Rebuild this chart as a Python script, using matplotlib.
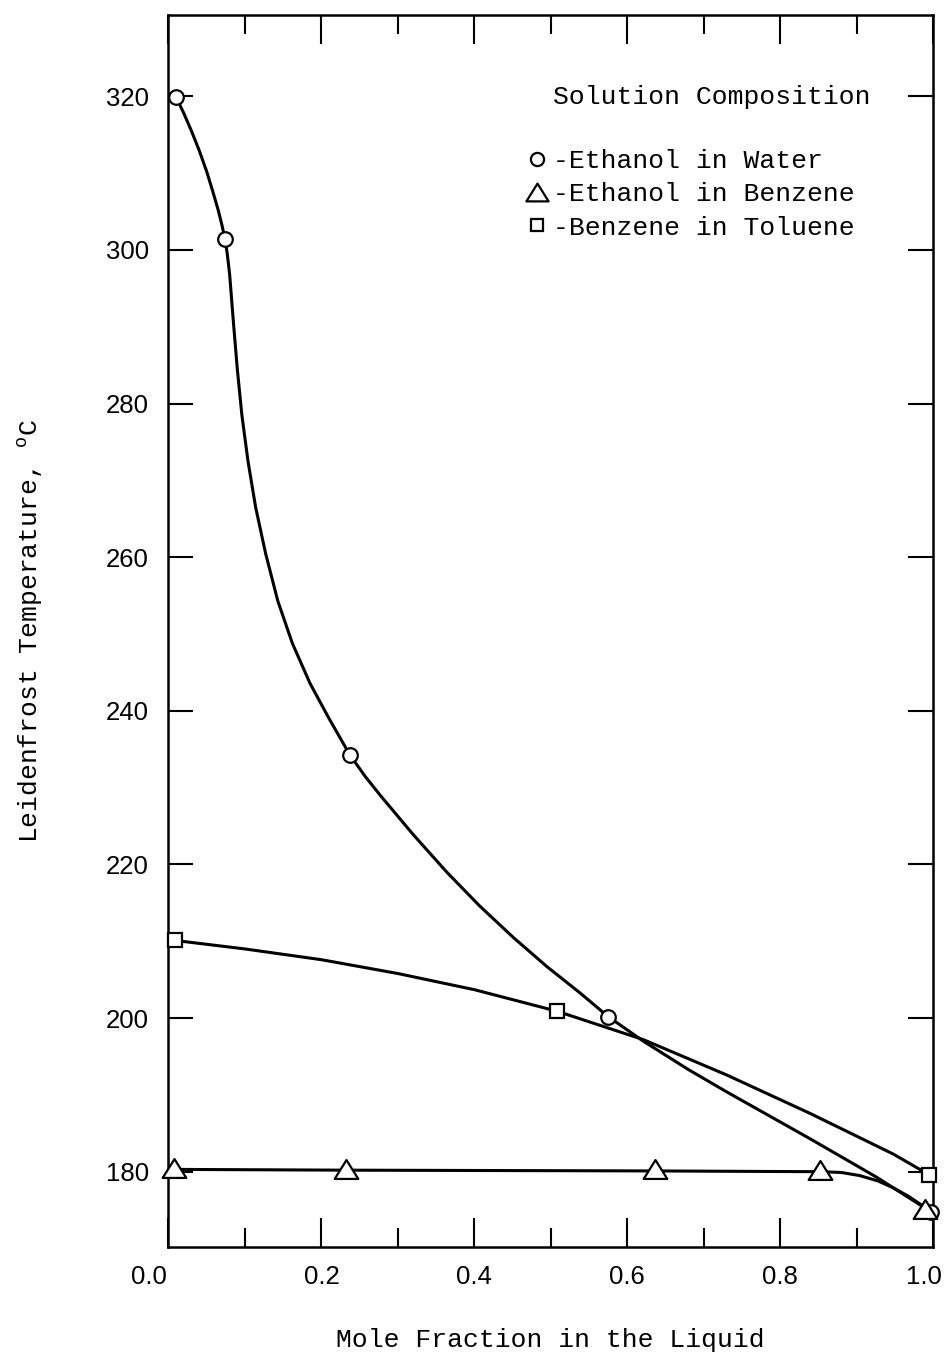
import matplotlib
matplotlib.use("Agg")
import matplotlib.pyplot as plt
from matplotlib.lines import Line2D
from matplotlib.path import Path
from matplotlib.ticker import MultipleLocator
from matplotlib.transforms import ScaledTranslation

# measured points (mole fraction, Leidenfrost temperature in C)
water_x = [0.010, 0.074, 0.237, 0.575, 0.997]
water_y = [319.9, 301.4, 234.3, 200.2, 174.8]
benz_x = [0.007, 0.232, 0.636, 0.852, 0.989]
benz_y = [180.5, 180.4, 180.3, 180.2, 175.2]
tol_x = [0.009, 0.508, 0.995]
tol_y = [210.1, 200.9, 179.6]

# hand drawn curves
water_cx = [0.010, 0.020, 0.030, 0.040, 0.050, 0.058, 0.065, 0.070, 0.074, 0.077,
            0.080, 0.085, 0.090, 0.096, 0.104, 0.114, 0.127, 0.143, 0.162, 0.185,
            0.210, 0.237, 0.257, 0.277, 0.320, 0.364, 0.407, 0.451, 0.495, 0.538,
            0.575, 0.621, 0.680, 0.730, 0.839, 0.926, 0.997]
water_cy = [319.9, 317.8, 315.5, 313.0, 310.2, 307.6, 305.2, 303.2, 301.4, 299.4,
            296.8, 290.5, 284.5, 278.5, 272.5, 266.5, 260.5, 254.3, 248.8, 243.6,
            239.0, 234.3, 231.5, 229.0, 223.9, 219.0, 214.6, 210.5, 206.7, 203.3,
            200.2, 197.0, 193.3, 190.4, 184.3, 179.3, 174.8]
benz_cx = [0.007, 0.232, 0.636, 0.852, 0.880, 0.904, 0.928, 0.948, 0.968, 0.983, 0.995]
benz_cy = [180.3, 180.2, 180.1, 180.0, 179.9, 179.5, 178.8, 177.9, 176.8, 175.8, 175.0]
tol_cx = [0.009, 0.100, 0.200, 0.300, 0.400, 0.508, 0.621, 0.730, 0.839, 0.948, 0.995]
tol_cy = [210.1, 209.0, 207.6, 205.8, 203.7, 200.9, 197.2, 192.6, 187.6, 182.3, 179.6]

labels = ["-Ethanol in Water", "-Ethanol in Benzene", "-Benzene in Toluene"]
xticks = [0.0, 0.2, 0.4, 0.6, 0.8, 1.0]
xticklabels = ["0.0", "0.2", "0.4", "0.6", "0.8", "1.0"]
yticks = [180, 200, 220, 240, 260, 280, 300, 320]

plt.rcParams['mathtext.fontset'] = 'custom'
plt.rcParams['mathtext.rm'] = 'Liberation Mono'
mono = {'family': 'Liberation Mono', 'size': 19}

tri = Path([(-1.25, -1), (1.25, -1), (0, 1), (-1.25, -1)],
           [Path.MOVETO, Path.LINETO, Path.LINETO, Path.CLOSEPOLY])

fig = plt.figure(figsize=(9.53, 13.56), dpi=100)
ax = fig.add_axes([0.1768, 0.0804, 0.8022, 0.9086])

lw = 2.2
for cx, cy in [(water_cx, water_cy), (benz_cx, benz_cy), (tol_cx, tol_cy)]:
    ax.plot(cx, cy, color='black', lw=lw, solid_joinstyle='round')

mk = dict(color='black', markerfacecolor='white', markeredgewidth=1.6, ls='none', clip_on=False, zorder=3)
ax.plot(water_x, water_y, marker='o', markersize=10.5, **mk)
ax.plot(benz_x, benz_y, marker=tri, markersize=17, **mk)
ax.plot(tol_x, tol_y, marker='s', markersize=9.5, **mk)

ax.set_xlim(0, 1.0)
ax.set_ylim(170.2, 330.6)
ax.set_xticks(xticks)
ax.set_xticklabels(xticklabels)
ax.xaxis.set_minor_locator(MultipleLocator(0.1))
ax.set_yticks(yticks)

ax.tick_params(axis='x', which='major', direction='in', top=True, bottom=True,
               length=21, width=1.5, pad=13, labelsize=18.5)
ax.tick_params(axis='x', which='minor', direction='in', top=True, bottom=True,
               length=14, width=1.5)
ax.tick_params(axis='y', which='major', direction='in', left=True, right=True,
               length=18, width=1.5, pad=14, labelsize=18.5)
for lab in ax.get_xticklabels() + ax.get_yticklabels():
    lab.set_family('Liberation Sans')

# end labels sit a bit to the left in the original
xl = ax.get_xticklabels()
xl[0].set_transform(xl[0].get_transform() + ScaledTranslation(-0.2, 0, fig.dpi_scale_trans))
xl[-1].set_transform(xl[-1].get_transform() + ScaledTranslation(-0.09, 0, fig.dpi_scale_trans))

for s in ax.spines.values():
    s.set_linewidth(1.8)

ax.set_xlabel("Mole Fraction in the Liquid", fontdict=mono)
ax.set_ylabel("Leidenfrost Temperature, $^{\\rm o}$C", fontdict=mono)
ax.xaxis.set_label_coords(0.5, -0.066)
ax.yaxis.set_label_coords(-0.1615, 0.5)

ax.text(0.503, 0.9334, "Solution Composition", transform=ax.transAxes,
        ha='left', va='center', fontdict=mono)

hk = dict(color='black', markerfacecolor='white', markeredgewidth=1.6, ls='none')
handles = [
    Line2D([], [], marker='o', markersize=9.5, **hk),
    Line2D([], [], marker=tri, markersize=16, **hk),
    Line2D([], [], marker='s', markersize=8.5, **hk),
]
ax.legend(handles, labels, loc='upper left', bbox_to_anchor=(0.465, 0.891),
          frameon=False, prop=mono, handlelength=1.0, handletextpad=0.1,
          labelspacing=0.35, borderpad=0, borderaxespad=0)

fig.savefig("out.png", dpi=100)
